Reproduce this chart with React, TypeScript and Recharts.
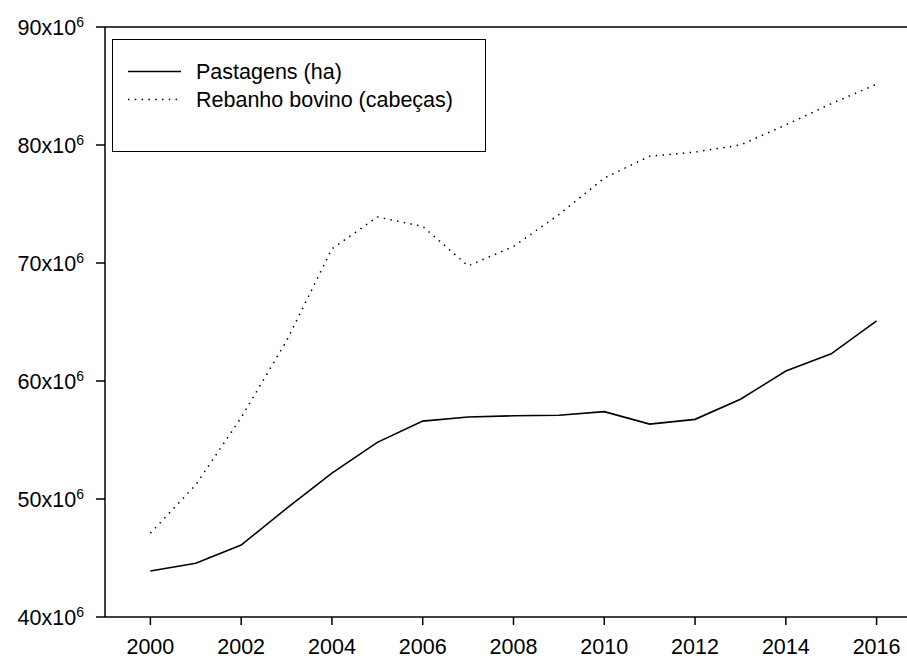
import React from 'react';
import { LineChart, Line, XAxis, YAxis, ReferenceLine } from 'recharts';

const years = [2000, 2001, 2002, 2003, 2004, 2005, 2006, 2007, 2008, 2009, 2010, 2011, 2012, 2013, 2014, 2015, 2016];
// values in millions (x10^6)
const pastagens = [43.9, 44.55, 46.1, 49.2, 52.2, 54.8, 56.6, 56.95, 57.05, 57.1, 57.4, 56.35, 56.75, 58.45, 60.85, 62.3, 65.1];
const rebanho = [47.1, 51.2, 56.9, 63.4, 71.2, 73.9, 73.1, 69.75, 71.4, 74.1, 77.2, 79.05, 79.4, 80.0, 81.7, 83.5, 85.15];
const xTicks = [2000, 2002, 2004, 2006, 2008, 2010, 2012, 2014, 2016];
const yTicks = [40, 50, 60, 70, 80, 90];
const seriesNames = ['Pastagens (ha)', 'Rebanho bovino (cabeças)'];

const data = years.map((y, i) => ({ year: y, pastagens: pastagens[i], rebanho: rebanho[i] }));

const FONT = '"Liberation Sans", Arial, sans-serif';

const YTick = (props: any) => {
  const { x, y, payload } = props;
  return (
    <text x={x} y={y} textAnchor="end" fontFamily={FONT} fontSize={21.5} fill="#000">
      <tspan dy={8}>{`${payload.value}x10`}</tspan>
      <tspan dy={-8} fontSize={14}>6</tspan>
    </text>
  );
};

const XTick = (props: any) => {
  const { x, y, payload } = props;
  return (
    <text x={x} y={y} dy={25} textAnchor="middle" fontFamily={FONT} fontSize={21.5} fill="#000">
      {payload.value}
    </text>
  );
};

export default function App() {
  return (
    <div style={{ position: 'absolute', left: 0, top: 0, width: 907, height: 660, background: '#fff' }}>
      <LineChart width={907} height={660} data={data} margin={{ top: 27, right: 0, left: 0, bottom: 0 }}>
        <XAxis
          dataKey="year"
          type="number"
          domain={[1999, 2016.67]}
          allowDataOverflow
          ticks={xTicks}
          height={43}
          tickSize={8}
          tickMargin={4}
          axisLine={{ stroke: '#000', strokeWidth: 1.5 }}
          tickLine={{ stroke: '#000', strokeWidth: 1.5 }}
          tick={<XTick />}
        />
        <YAxis
          type="number"
          domain={[40, 90]}
          ticks={yTicks}
          width={105}
          tickSize={9}
          tickMargin={12}
          axisLine={{ stroke: '#000', strokeWidth: 1.5 }}
          tickLine={{ stroke: '#000', strokeWidth: 1.5 }}
          tick={<YTick />}
        />
        <ReferenceLine y={90} stroke="#000" strokeWidth={1.5} />
        <Line
          type="linear"
          dataKey="pastagens"
          name={seriesNames[0]}
          stroke="#000"
          strokeWidth={1.6}
          dot={false}
          isAnimationActive={false}
        />
        <Line
          type="linear"
          dataKey="rebanho"
          name={seriesNames[1]}
          stroke="#000"
          strokeWidth={1.5}
          strokeDasharray="1.5 5.3"
          dot={false}
          isAnimationActive={false}
        />
      </LineChart>
      <div
        style={{
          position: 'absolute',
          left: 112,
          top: 39,
          width: 374,
          height: 113,
          border: '1.5px solid #000',
          boxSizing: 'border-box',
          background: '#fff',
          fontFamily: FONT,
          fontSize: 21.5,
          color: '#000',
        }}
      >
        <svg style={{ position: 'absolute', left: 0, top: 0 }} width={90} height={110}>
          <line x1={15} x2={68} y1={31.5} y2={31.5} stroke="#000" strokeWidth={1.5} />
          <line x1={15} x2={68} y1={59.5} y2={59.5} stroke="#000" strokeWidth={1.5} strokeDasharray="1.5 5.3" />
        </svg>
        <div style={{ position: 'absolute', left: 83, top: 18, lineHeight: '28px', whiteSpace: 'nowrap' }}>
          <div>{seriesNames[0]}</div>
          <div>{seriesNames[1]}</div>
        </div>
      </div>
    </div>
  );
}
